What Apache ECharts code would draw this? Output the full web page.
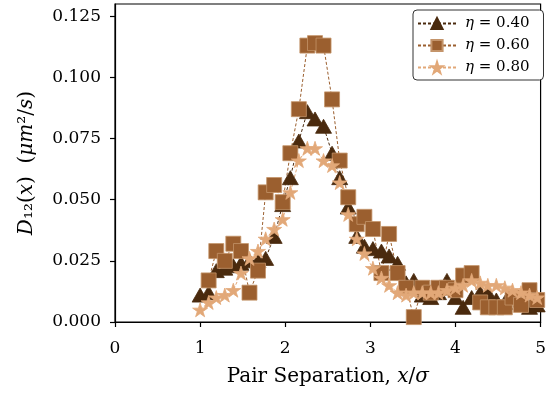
<!DOCTYPE html>
<html>
<head>
<meta charset="utf-8">
<script src="https://cdn.jsdelivr.net/npm/echarts@6/dist/echarts.min.js"></script>
<style>
  html, body { margin: 0; padding: 0; background: #fff; }
  #chart { width: 549px; height: 393px; }
</style>
</head>
<body>
<div id="chart"></div>
<script>
// pair separation x/sigma, shared by all three runs
const sep = [1.00, 1.10, 1.19, 1.29, 1.39, 1.48, 1.58, 1.68, 1.77, 1.87,
  1.97, 2.06, 2.16, 2.26, 2.35, 2.45, 2.55, 2.64, 2.74, 2.84,
  2.93, 3.03, 3.13, 3.22, 3.32, 3.42, 3.51, 3.61, 3.71, 3.80,
  3.90, 4.00, 4.09, 4.19, 4.29, 4.38, 4.48, 4.58, 4.67, 4.77,
  4.87, 4.96]

const eta040 = [0.011, 0.012, 0.021, 0.022, 0.023, 0.024, 0.025, 0.025, 0.026, 0.035,
  0.048, 0.059, 0.074, 0.086, 0.083, 0.080, 0.069, 0.059, 0.047, 0.035,
  0.031, 0.030, 0.029, 0.027, 0.024, 0.016, 0.017, 0.011, 0.010, 0.012,
  0.017, 0.010, 0.006, 0.010, 0.012, 0.012, 0.009, 0.008, 0.011, 0.009,
  0.006, 0.007]

const eta060 = [null, 0.017, 0.029, 0.025, 0.032, 0.029, 0.012, 0.021, 0.053, 0.056,
  0.049, 0.069, 0.087, 0.113, 0.114, 0.113, 0.091, 0.066, 0.051, 0.040,
  0.043, 0.038, 0.020, 0.036, 0.020, 0.014, 0.002, 0.014, 0.012, 0.014,
  0.014, 0.013, 0.019, 0.020, 0.008, 0.006, 0.006, 0.006, 0.010, 0.007,
  0.013, 0.009]

const eta080 = [0.005, 0.008, 0.010, 0.011, 0.013, 0.020, 0.026, 0.029, 0.034, 0.038,
  0.042, 0.053, 0.066, 0.071, 0.071, 0.066, 0.064, 0.057, 0.044, 0.034,
  0.028, 0.022, 0.018, 0.015, 0.012, 0.011, 0.012, 0.012, 0.012, 0.012,
  0.013, 0.014, 0.015, 0.017, 0.016, 0.015, 0.015, 0.014, 0.013, 0.012,
  0.011, 0.010]

const yTicks = [0, 0.025, 0.05, 0.075, 0.1, 0.125]
const xTicks = [0, 1, 2, 3, 4, 5]
const etaNames = ['η = 0.40', 'η = 0.60', 'η = 0.80']

const font = 'DejaVu Serif'
const starPath = 'path://M50,0 L61,35 L98,35 L68,57 L79,91 L50,70 L21,91 L32,57 L2,35 L39,35 Z'

const pairs = (ys) => sep.map((x, i) => [x, ys[i]])

// rich text styles: n = upright, i = italic
const richText = (size) => ({
  n: { fontFamily: font, fontSize: size, color: '#000' },
  i: { fontFamily: font, fontSize: size, color: '#000', fontStyle: 'italic' }
})

const makeSeries = (name, ys, color, symbol, size, edge) => ({
  name: name,
  type: 'line',
  data: pairs(ys),
  connectNulls: false,
  symbol: symbol,
  symbolSize: size,
  showSymbol: true,
  lineStyle: { color: color, width: 1, type: [3, 2] },
  itemStyle: { color: color, borderColor: edge, borderWidth: 0.8, opacity: 1 },
  emphasis: { disabled: true },
  animation: false
})

const chart = echarts.init(document.getElementById('chart'), null, { renderer: 'canvas' })

chart.setOption({
  animation: false,
  backgroundColor: '#fff',
  grid: {
    left: 115, right: 4, top: 4, bottom: 71,
    show: true, borderColor: '#000', borderWidth: 1.2, backgroundColor: 'transparent'
  },
  legend: {
    left: 413, top: 10,
    orient: 'vertical',
    itemWidth: 38, itemHeight: 14, itemGap: 7,
    padding: [6, 14, 5, 4],
    backgroundColor: '#fff',
    borderColor: '#333', borderWidth: 1, borderRadius: 4,
    data: etaNames,
    formatter: (n) => '{i|η}{n| = ' + n.split('= ')[1] + '}',
    textStyle: {
      fontFamily: font, fontSize: 15, color: '#000', padding: [0, 0, 0, 4],
      rich: richText(15)
    }
  },
  xAxis: {
    type: 'value', min: 0, max: 5, interval: 1,
    name: '{n|Pair Separation, }{i|x}{n|/}{i|σ}',
    nameLocation: 'middle', nameGap: 45,
    nameTextStyle: { fontFamily: font, fontSize: 20, color: '#000', rich: richText(20) },
    axisLine: { lineStyle: { color: '#000', width: 1.2 } },
    axisTick: { show: true, length: 5, lineStyle: { color: '#000', width: 1.2 } },
    axisLabel: { color: '#000', fontFamily: font, fontSize: 17, margin: 18, customValues: xTicks },
    splitLine: { show: false }
  },
  yAxis: {
    type: 'value', min: 0, max: 0.13,
    name: '{i|D}{n|₁₂(}{i|x}{n|)  (}{i|μm}{n|²/}{i|s}{n|)}',
    nameLocation: 'middle', nameGap: 78, nameRotate: 90,
    nameTextStyle: { fontFamily: font, fontSize: 20, color: '#000', rich: richText(20) },
    axisLine: { lineStyle: { color: '#000', width: 1.2 } },
    axisTick: { show: true, length: 5, lineStyle: { color: '#000', width: 1.2 }, customValues: yTicks },
    axisLabel: {
      color: '#000', fontFamily: font, fontSize: 17, margin: 14,
      customValues: yTicks,
      formatter: (v) => v.toFixed(3)
    },
    splitLine: { show: false }
  },
  series: [
    makeSeries(etaNames[0], eta040, '#4a2a0e', 'triangle', [16, 14], '#4a2a0e'),
    makeSeries(etaNames[1], eta060, '#9b5f2f', 'rect', [15, 15], '#c4946a'),
    makeSeries(etaNames[2], eta080, '#e2a878', starPath, [15, 14], '#e2a878')
  ]
})
</script>
</body>
</html>
